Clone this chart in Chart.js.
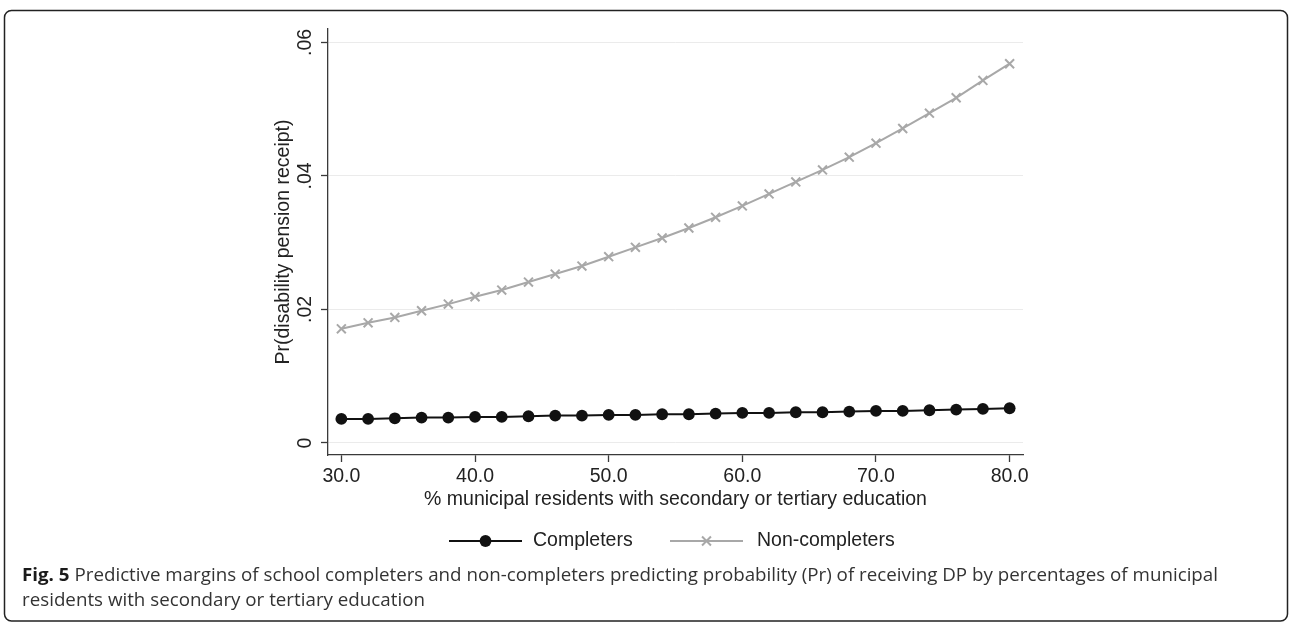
<!DOCTYPE html>
<html>
<head>
<meta charset="utf-8">
<script src="https://cdn.jsdelivr.net/npm/chart.js"></script>
<style>
  html, body { margin: 0; padding: 0; background: #ffffff; }
  #wrap { width: 1290px; height: 622px; position: relative; }
  canvas { display: block; }
</style>
</head>
<body>
<div id="wrap"><canvas id="c" width="1290" height="622"></canvas></div>
<script>
// ---- data ----
const xValues = [30,32,34,36,38,40,42,44,46,48,50,52,54,56,58,60,62,64,66,68,70,72,74,76,78,80];
const completers = [0.0036,0.0036,0.0037,0.0038,0.0038,0.0039,0.0039,0.0040,0.0041,0.0041,0.0042,0.0042,0.0043,0.0043,0.0044,0.0045,0.0045,0.0046,0.0046,0.0047,0.0048,0.0048,0.0049,0.0050,0.0051,0.0052];
const nonCompleters = [0.0171,0.0180,0.0188,0.0198,0.0208,0.0219,0.0229,0.0241,0.0253,0.0265,0.0279,0.0293,0.0307,0.0322,0.0338,0.0355,0.0373,0.0391,0.0409,0.0428,0.0449,0.0471,0.0494,0.0517,0.0543,0.0568];
const xTickValues = [30,40,50,60,70,80];
const xTickLabels = ["30.0","40.0","50.0","60.0","70.0","80.0"];
const yTickValues = [0,0.02,0.04,0.06];
const yTickLabels = ["0",".02",".04",".06"];
const seriesNames = ["Completers","Non-completers"];
const xTitle = "% municipal residents with secondary or tertiary education";
const yTitle = "Pr(disability pension receipt)";
const captionBold = "Fig. 5";
const captionLine1 = " Predictive margins of school completers and non-completers predicting probability (Pr) of receiving DP by percentages of municipal";
const captionLine2 = "residents with secondary or tertiary education";

// ---- styles ----
const FONT = '"Liberation Sans", Arial, Helvetica, sans-serif';
const FS = 19.5;
const AXIS = '#3a3a3a';
const C_DARK = '#111111';
const C_GREY = '#a8a8a8';
const R_DOT = 5.9;
const R_X = 6.3;

function pts(ys) { return xValues.map((x, i) => ({ x: x, y: ys[i] })); }

const decor = {
  id: 'decor',
  beforeDraw(chart) {
    const ctx = chart.ctx;
    ctx.save();
    ctx.fillStyle = '#ffffff';
    ctx.fillRect(0, 0, chart.width, chart.height);
    ctx.strokeStyle = '#222';
    ctx.lineWidth = 1.5;
    const l = 4.5, t = 10.5, r = 1287.5, b = 621, rad = 7;
    ctx.beginPath();
    ctx.moveTo(l + rad, t);
    ctx.lineTo(r - rad, t);
    ctx.arcTo(r, t, r, t + rad, rad);
    ctx.lineTo(r, b - rad);
    ctx.arcTo(r, b, r - rad, b, rad);
    ctx.lineTo(l + rad, b);
    ctx.arcTo(l, b, l, b - rad, rad);
    ctx.lineTo(l, t + rad);
    ctx.arcTo(l, t, l + rad, t, rad);
    ctx.stroke();
    ctx.restore();
  },
  afterDraw(chart) {
    const ctx = chart.ctx;
    const ys = chart.scales.y;
    ctx.save();
    // rotated y tick labels
    ctx.fillStyle = '#222';
    ctx.font = FS + 'px ' + FONT;
    ctx.textAlign = 'center';
    ctx.textBaseline = 'middle';
    yTickValues.forEach((v, i) => {
      const py = ys.getPixelForValue(v);
      ctx.save();
      ctx.translate(306, py);
      ctx.rotate(-Math.PI / 2);
      ctx.fillText(yTickLabels[i], 0, 0);
      ctx.restore();
    });
    // legend
    const ly = 541;
    const items = [
      { x0: 449, x1: 522, tx: 533, color: C_DARK, style: 'circle', r: R_DOT, bw: 0 },
      { x0: 670, x1: 743, tx: 757, color: C_GREY, style: 'crossRot', r: R_X, bw: 2 }
    ];
    items.forEach((it, i) => {
      ctx.strokeStyle = it.color;
      ctx.lineWidth = 2;
      ctx.beginPath();
      ctx.moveTo(it.x0, ly);
      ctx.lineTo(it.x1, ly);
      ctx.stroke();
      ctx.fillStyle = it.color;
      ctx.strokeStyle = it.color;
      ctx.lineWidth = it.bw;
      Chart.helpers.drawPoint(ctx, { pointStyle: it.style, radius: it.r, rotation: 0, borderWidth: it.bw }, (it.x0 + it.x1) / 2, ly);
      ctx.fillStyle = '#222';
      ctx.textAlign = 'left';
      ctx.textBaseline = 'middle';
      ctx.font = FS + 'px ' + FONT;
      ctx.fillText(seriesNames[i], it.tx, ly);
    });
    // caption
    const cx = 22, b1 = 581, b2 = 606, targetW = 1196;
    const CF = '"Open Sans", "Noto Sans", sans-serif';
    ctx.textBaseline = 'alphabetic';
    ctx.textAlign = 'left';
    ctx.font = 'bold 18.5px ' + CF;
    const wb = ctx.measureText(captionBold).width;
    ctx.font = '18.5px ' + CF;
    const w1 = ctx.measureText(captionLine1).width;
    const sx = targetW / (wb + w1);
    ctx.save();
    ctx.translate(cx, 0);
    ctx.scale(sx, 1);
    ctx.font = 'bold 18.5px ' + CF;
    ctx.fillStyle = '#1a1a1a';
    ctx.fillText(captionBold, 0, b1);
    ctx.font = '18.5px ' + CF;
    ctx.fillStyle = '#333333';
    ctx.fillText(captionLine1, wb, b1);
    ctx.fillText(captionLine2, 0, b2);
    ctx.restore();
    ctx.restore();
  }
};

new Chart(document.getElementById('c'), {
  type: 'line',
  data: {
    datasets: [
      {
        label: seriesNames[0],
        data: pts(completers),
        borderColor: C_DARK,
        backgroundColor: C_DARK,
        borderWidth: 2,
        pointStyle: 'circle',
        pointRadius: R_DOT,
        pointBackgroundColor: C_DARK,
        pointBorderWidth: 0,
        tension: 0,
        fill: false
      },
      {
        label: seriesNames[1],
        data: pts(nonCompleters),
        borderColor: C_GREY,
        backgroundColor: C_GREY,
        borderWidth: 2,
        pointStyle: 'crossRot',
        pointRadius: R_X,
        pointBorderColor: C_GREY,
        pointBorderWidth: 2,
        tension: 0,
        fill: false
      }
    ]
  },
  options: {
    responsive: false,
    animation: false,
    devicePixelRatio: 1,
    events: [],
    layout: { padding: { left: 0, top: 29, right: 267, bottom: 0 } },
    plugins: { legend: { display: false }, tooltip: { enabled: false } },
    scales: {
      x: {
        type: 'linear',
        min: 29,
        max: 81,
        afterBuildTicks: (s) => { s.ticks = xTickValues.map(v => ({ value: v })); },
        afterFit: (s) => { s.height = 167; },
        ticks: {
          autoSkip: false,
          maxRotation: 0,
          padding: 3,
          color: '#222',
          font: { family: FONT, size: FS },
          callback: (v) => { const i = xTickValues.indexOf(v); return i >= 0 ? xTickLabels[i] : ''; }
        },
        grid: { drawOnChartArea: false, drawTicks: true, tickLength: 7, tickColor: AXIS, tickWidth: 1.3 },
        border: { display: true, color: AXIS, width: 1.3 },
        title: {
          display: true,
          text: xTitle,
          color: '#222',
          font: { family: FONT, size: FS },
          padding: { top: 0, bottom: 111 }
        }
      },
      y: {
        type: 'linear',
        min: -0.0018,
        max: 0.062,
        afterBuildTicks: (s) => { s.ticks = yTickValues.map(v => ({ value: v })); },
        afterFit: (s) => { s.width = 328; },
        ticks: { display: false },
        grid: { drawOnChartArea: true, color: '#ebebeb', lineWidth: 1, drawTicks: true, tickLength: 7, tickColor: AXIS, tickWidth: 1.3 },
        border: { display: true, color: AXIS, width: 1.3 },
        title: {
          display: true,
          text: yTitle,
          color: '#222',
          font: { family: FONT, size: FS },
          padding: { top: 272, bottom: 0 }
        }
      }
    }
  },
  plugins: [decor]
});
</script>
</body>
</html>
